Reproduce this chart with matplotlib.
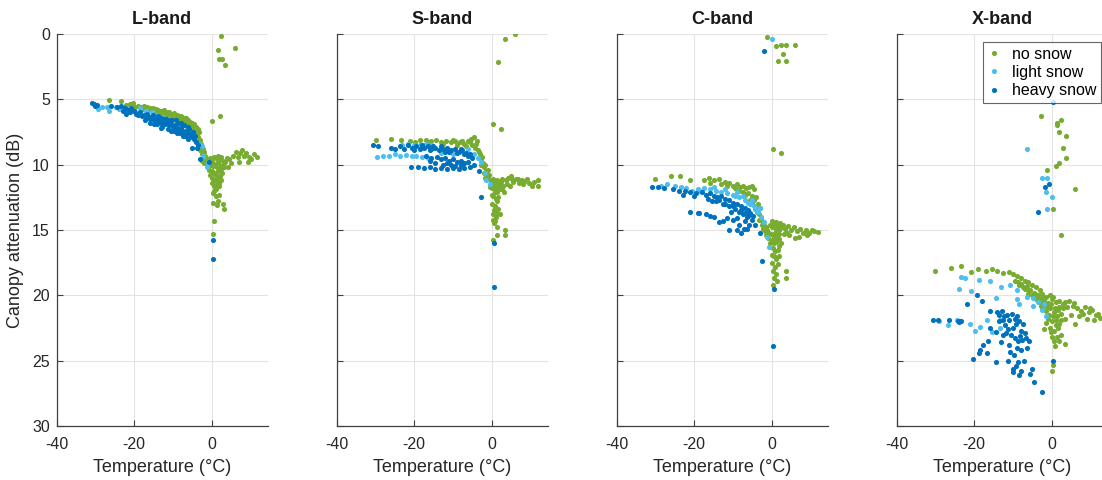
import numpy as np
import matplotlib
matplotlib.use("Agg")
import matplotlib.pyplot as plt

plt.rcParams['font.family'] = ['Liberation Sans', 'DejaVu Sans']
plt.rcParams['axes.unicode_minus'] = False

# ---- data: (temperature degC, canopy attenuation dB) ----
bands = ['L-band', 'S-band', 'C-band', 'X-band']
classes = ['no snow', 'light snow', 'heavy snow']
colors = ['#77AC30', '#4DBEEE', '#0072BD']

l_none = [(2.3, 0.15), (1.6, 1.2), (5.9, 1.05), (2.0, 1.9), (2.7, 1.9), (3.5, 2.35), (0.1, 6.65), (2.2, 6.25),
          (-26.4, 5.05), (-23.4, 5.15), (-21.0, 5.35), (-20.4, 5.3), (-19.0, 5.5), (-18.2, 5.55), (-17.5, 5.5),
          (-16.8, 5.6), (-16.0, 5.7), (-15.2, 5.65), (-14.5, 5.75), (-13.8, 5.8), (-13.0, 5.9), (-12.4, 5.85),
          (-11.8, 5.95), (-11.0, 6.0), (-10.4, 6.1), (-9.8, 6.05), (-9.0, 6.2), (-8.4, 6.25), (-7.8, 6.3),
          (-7.2, 6.4), (-6.6, 6.45), (-6.0, 6.6), (-5.5, 6.7), (-5.0, 6.8), (-4.5, 6.9), (-4.0, 7.1), (-3.6, 7.3),
          (-3.2, 7.5), (-12.0, 6.2), (-10.5, 6.4), (-9.2, 6.5), (-8.0, 6.6), (-7.0, 6.8), (-6.2, 7.0), (-5.4, 7.2),
          (-4.6, 7.4), (-4.0, 7.6), (-3.5, 7.9), (-3.0, 8.1), (-2.7, 8.4), (-2.4, 8.7), (-2.1, 9.0), (-1.8, 9.3),
          (-1.5, 9.5), (-1.2, 9.7), (-0.8, 9.9), (-3.8, 8.0), (-3.3, 8.6), (-2.9, 8.9), (-2.5, 9.2), (-2.6, 9.7),
          (-2.0, 9.9), (-0.5, 9.5), (0.0, 9.6), (0.5, 9.4), (1.0, 9.5), (1.5, 9.3), (2.0, 9.6), (2.5, 9.4),
          (3.0, 9.7), (3.5, 9.8), (4.0, 9.5), (-0.3, 10.0), (0.3, 10.1), (0.8, 10.0), (1.3, 10.2), (1.8, 10.0),
          (2.3, 10.3), (2.8, 10.0), (0.0, 10.5), (0.6, 10.6), (1.1, 10.8), (1.6, 10.5), (2.1, 10.9), (0.2, 11.0),
          (0.9, 11.2), (1.5, 11.1), (-0.4, 10.8), (0.5, 11.6), (1.2, 11.9), (1.8, 11.6), (0.3, 12.2), (1.0, 12.4),
          (2.0, 12.3), (0.4, 12.9), (1.4, 13.1), (3.0, 13.0), (3.2, 13.4), (0.7, 14.3), (0.4, 15.3),
          (4.5, 9.6), (5.0, 9.9), (5.5, 9.3), (6.3, 9.0), (6.8, 9.4), (7.3, 9.1), (7.8, 8.9), (8.3, 9.3),
          (8.8, 9.1), (9.5, 9.4), (10.2, 9.6), (10.8, 9.2), (11.8, 9.4), (7.0, 9.8), (9.3, 9.8), (4.2, 10.2),
          (-22.0, 5.4), (-19.8, 5.6), (-17.8, 5.75), (-15.8, 5.85), (-14.0, 6.0), (-13.2, 6.1), (-11.4, 6.25),
          (-9.6, 6.35), (-8.6, 6.5), (-7.5, 6.6), (-6.8, 6.7), (-5.8, 6.9), (-5.2, 7.0), (-4.8, 7.2), (-4.2, 7.3),
          (-3.9, 7.8), (-3.4, 8.2), (-3.1, 8.4), (-2.8, 8.6), (-2.2, 8.8), (-1.9, 9.6), (-1.6, 9.9), (-1.0, 10.2),
          (-0.6, 10.4), (0.4, 9.9), (1.6, 9.8), (2.6, 10.6), (3.3, 10.2), (1.3, 11.5), (0.7, 12.0), (1.6, 12.8),
          (2.4, 11.2), (0.0, 11.4), (1.9, 11.4)]
l_light = [(-29.4, 5.75), (-28.2, 5.6), (-26.9, 5.6), (-26.6, 5.9), (-24.7, 5.6), (-23.9, 5.75), (-22.2, 5.7),
           (-21.5, 5.9), (-19.6, 6.0), (-18.5, 5.7), (-17.0, 5.9), (-15.5, 6.0), (-14.0, 6.2), (-12.5, 6.35),
           (-11.0, 6.5), (-8.5, 6.9), (-6.5, 7.2), (-5.0, 7.6), (-4.2, 8.1), (-3.4, 8.4), (-2.6, 8.6),
           (-2.2, 9.3), (-1.3, 10.2), (-1.0, 9.9)]
l_heavy = [(-31.0, 5.3), (-30.5, 5.35), (-30.0, 5.5), (-29.6, 5.4), (-24.5, 5.6), (-23.5, 5.5), (-22.5, 5.7),
           (-21.5, 5.8), (-21.0, 6.0), (-20.0, 5.9), (-19.5, 6.1), (-19.0, 6.2), (-18.5, 6.0), (-18.0, 6.3),
           (-17.5, 6.2), (-17.0, 6.4), (-16.5, 6.3), (-16.0, 6.5), (-15.5, 6.4), (-15.0, 6.6), (-14.5, 6.5),
           (-14.0, 6.7), (-13.5, 6.6), (-13.0, 6.8), (-12.5, 6.7), (-12.0, 6.9), (-11.5, 6.8), (-11.0, 7.0),
           (-10.5, 6.9), (-10.0, 7.1), (-9.5, 7.0), (-9.0, 7.2), (-8.5, 7.3), (-8.0, 7.2), (-7.5, 7.4),
           (-7.0, 7.5), (-6.5, 7.4), (-6.0, 7.6), (-5.5, 7.7), (-5.0, 7.9), (-4.5, 8.0), (-5.2, 8.75),
           (-4.0, 8.3), (-3.5, 8.5), (-2.9, 9.6), (-0.8, 9.8), (0.3, 15.8), (0.3, 17.2), (-17.2, 6.6),
           (-15.8, 6.8), (-14.2, 6.9), (-12.8, 7.1), (-11.2, 7.3), (-9.8, 7.4), (-8.2, 7.6), (-6.8, 7.8),
           (-13.2, 6.4), (-11.8, 6.5), (-10.2, 6.6), (-8.8, 6.8), (-7.2, 7.0), (-20.8, 5.7), (-22.0, 6.1),
           (-16.8, 6.1), (-15.2, 6.2), (-13.8, 6.3), (-12.2, 6.5), (-10.8, 6.6), (-9.2, 6.6), (-7.8, 6.8),
           (-6.2, 7.1), (-5.8, 7.3), (-4.8, 7.5), (-4.2, 7.8), (-15.0, 6.9), (-13.0, 7.2), (-10.5, 7.4),
           (-9.0, 7.6), (-7.5, 7.8), (-6.0, 8.0), (-3.8, 8.7), (-26.0, 5.5), (-23.0, 5.9)]

s_none = [(6.1, 0.0), (3.6, 0.4), (1.8, 2.15), (0.4, 6.9), (2.4, 7.3),
          (-29.9, 8.15), (-25.9, 8.05), (-23.4, 8.1), (-21.0, 8.2), (-18.5, 8.15), (-17.0, 8.1), (-15.5, 8.2),
          (-14.2, 8.15), (-13.0, 8.25), (-11.8, 8.2), (-10.5, 8.3), (-9.3, 8.2), (-8.2, 8.3), (-7.0, 8.4),
          (-6.0, 8.2), (-5.2, 8.0), (-4.5, 7.9), (-3.8, 8.2), (-12.5, 8.4), (-8.8, 8.5), (-6.5, 8.6),
          (-5.0, 8.5), (-4.2, 8.7), (-3.6, 8.9), (-3.0, 9.2), (-2.6, 9.6), (-2.2, 9.9), (-1.9, 10.2),
          (-1.5, 10.5), (-1.2, 10.8), (-0.8, 11.0), (-0.4, 11.2), (-2.8, 10.0), (-2.0, 10.6), (-1.6, 11.0),
          (0.0, 11.3), (0.5, 11.1), (1.0, 11.4), (1.5, 11.2), (2.0, 11.5), (2.5, 11.3), (3.0, 11.6),
          (0.2, 11.8), (0.8, 11.9), (1.4, 12.1), (2.1, 11.9), (-0.3, 11.7), (0.5, 12.4), (1.1, 12.6),
          (1.8, 12.5), (0.2, 13.0), (0.9, 13.2), (1.6, 13.4), (0.4, 13.8), (1.2, 14.0), (2.2, 13.8),
          (0.6, 14.5), (1.4, 14.8), (3.4, 15.0), (3.4, 15.4), (1.3, 15.4), (0.5, 15.8),
          (3.8, 11.2), (4.3, 11.0), (5.0, 10.9), (5.6, 11.3), (6.3, 11.1), (7.0, 11.4), (7.8, 11.2),
          (8.5, 11.3), (9.2, 11.1), (9.8, 11.4), (10.5, 11.6), (11.0, 11.3), (12.1, 11.2), (12.0, 11.6),
          (4.8, 11.6), (3.2, 12.1),
          (-0.2, 11.5), (0.3, 11.6), (1.2, 11.8), (1.7, 11.7), (2.6, 11.9), (0.1, 12.3), (0.9, 12.1),
          (1.5, 12.8), (0.6, 13.5), (1.3, 13.7), (0.3, 14.2), (1.0, 14.3), (-2.4, 9.4), (-3.3, 9.0), (-4.0, 8.4),
          (-1.7, 10.0), (-1.0, 10.4), (-0.6, 10.8), (-5.5, 8.3), (-7.5, 8.2), (-10.0, 8.15), (-16.0, 8.3),
          (-19.8, 8.3), (2.8, 11.1), (4.0, 11.5), (5.3, 11.1), (6.8, 11.1), (8.0, 11.5)]
s_light = [(-29.5, 9.4), (-28.0, 9.3), (-26.5, 9.3), (-25.0, 9.2), (-23.5, 9.3), (-22.0, 9.25), (-20.5, 9.3),
           (-19.5, 9.3), (-18.0, 9.4), (-16.5, 9.5), (-23.0, 8.5), (-21.5, 8.4), (-20.0, 8.5), (-18.5, 8.5),
           (-17.0, 8.4), (-16.0, 8.5), (-13.0, 9.1), (-10.0, 9.2), (-6.0, 8.8), (-4.5, 9.2), (-3.5, 9.5),
           (-2.8, 9.8), (-1.8, 10.6), (-1.3, 11.2), (-0.5, 11.5)]
s_heavy = [(-30.6, 8.5), (-29.3, 8.55), (-26.0, 8.7), (-23.5, 8.6), (-22.5, 8.8), (-21.5, 8.5), (-20.5, 8.7),
           (-19.5, 8.6), (-18.5, 8.8), (-17.5, 8.7), (-16.5, 8.6), (-15.5, 8.8), (-14.5, 8.7), (-13.5, 8.9),
           (-12.5, 8.8), (-11.5, 8.7), (-10.5, 8.9), (-9.5, 8.8), (-8.5, 9.0), (-7.5, 8.9), (-6.5, 9.1),
           (-5.5, 9.2), (-17.0, 9.3), (-15.5, 9.5), (-14.0, 9.4), (-13.0, 9.6), (-12.0, 9.5), (-11.0, 9.7),
           (-10.0, 9.6), (-9.0, 9.8), (-8.0, 9.7), (-7.0, 9.9), (-6.0, 9.8), (-14.5, 9.9), (-12.5, 10.0),
           (-10.5, 10.0), (-20.8, 10.15), (-19.0, 10.2), (-17.5, 10.25), (-16.0, 10.2), (-14.5, 10.3),
           (-13.0, 10.25), (-11.5, 10.3), (-10.0, 10.25), (-8.5, 10.3), (-7.0, 10.25), (-5.5, 10.2),
           (-4.5, 10.0), (-3.2, 10.5), (-2.6, 12.5), (0.6, 16.0), (0.6, 19.4),
           (-25.0, 8.8), (-20.0, 8.9), (-18.0, 8.5), (-16.0, 8.9), (-15.0, 8.6), (-13.0, 8.6), (-12.0, 9.0),
           (-11.0, 9.0), (-9.0, 9.1), (-8.0, 8.8), (-7.0, 9.2), (-6.0, 9.3), (-5.0, 9.5), (-16.0, 9.7),
           (-11.5, 9.9), (-9.5, 10.1), (-8.0, 10.0)]

c_none = [(-1.3, 0.2), (1.2, 0.95), (2.3, 0.85), (3.6, 0.85), (6.1, 0.85), (3.0, 1.5), (1.7, 2.05), (3.6, 2.05),
          (0.3, 8.8), (2.3, 9.1),
          (-30.2, 11.1), (-26.1, 10.9), (-23.6, 10.9), (-21.0, 11.2), (-17.5, 11.2), (-16.3, 11.0),
          (-14.8, 11.2), (-13.5, 11.1), (-12.0, 11.3), (-11.0, 11.4), (-10.0, 11.6), (-9.0, 11.5), (-8.2, 11.7),
          (-7.4, 11.6), (-6.6, 11.8), (-5.8, 11.7), (-5.0, 11.6), (-4.5, 11.9), (-6.0, 12.2), (-5.2, 12.4),
          (-4.6, 12.7), (-4.0, 12.5), (-3.5, 13.0), (-3.0, 13.3), (-4.2, 13.4), (-3.4, 13.8), (-2.8, 14.0),
          (-2.4, 14.3), (-2.0, 14.6), (-1.6, 14.8), (-1.2, 15.0), (-0.8, 15.2), (-2.2, 14.9), (-1.5, 15.4),
          (-0.5, 14.6), (0.0, 14.8), (0.5, 14.6), (1.0, 14.9), (1.5, 14.7), (2.0, 15.0), (2.5, 14.8),
          (-0.3, 15.3), (0.3, 15.4), (0.8, 15.2), (1.3, 15.5), (1.8, 15.3), (0.0, 15.8), (0.6, 16.0),
          (1.2, 15.9), (2.0, 15.7), (0.3, 16.4), (0.9, 16.6), (1.6, 16.5), (0.5, 17.0), (1.2, 17.2),
          (0.2, 17.5), (0.8, 17.8), (1.5, 17.6), (0.4, 18.1), (1.1, 18.4), (3.8, 18.1), (3.8, 18.7),
          (0.4, 19.2), (3.0, 14.6), (3.5, 14.9), (4.2, 14.7), (5.0, 15.0), (5.8, 14.8), (6.5, 15.1),
          (7.3, 14.9), (8.0, 15.2), (8.8, 15.0), (9.5, 15.2), (10.3, 15.0), (11.0, 15.1), (12.0, 15.15),
          (4.5, 15.4), (6.0, 15.6), (3.2, 15.3),
          (-16.0, 11.4), (-13.0, 11.5), (-11.5, 11.6), (-9.5, 11.8), (-8.5, 12.0), (-7.5, 12.1), (-6.8, 12.3),
          (-5.6, 12.7), (-5.0, 13.0), (-4.4, 13.2), (-3.8, 13.6), (-3.2, 14.2), (-2.6, 14.6), (-1.8, 15.1),
          (-1.0, 15.6), (-0.5, 16.0), (0.2, 14.3), (1.2, 14.4), (2.2, 14.5), (1.0, 15.6), (2.3, 16.0),
          (0.1, 16.9), (1.8, 17.0), (0.6, 18.7), (1.4, 18.9), (1.8, 16.2), (4.0, 15.2), (7.0, 15.5), (9.0, 15.4)]
c_light = [(-28.5, 11.6), (-27.0, 11.5), (-25.0, 11.6), (-23.5, 11.7), (-22.0, 11.8), (-20.5, 12.0),
           (-19.0, 11.9), (-17.5, 11.8), (-16.0, 11.9), (-14.5, 12.0), (-13.0, 12.1), (-11.5, 12.2),
           (-10.0, 12.3), (-8.5, 12.5), (-7.0, 12.7), (-5.5, 13.0), (-4.5, 13.2), (-3.5, 13.6), (-2.8, 14.0),
           (-2.0, 14.4), (-1.2, 15.5), (-0.8, 16.3), (0.0, 0.35), (-6.0, 12.9), (-9.0, 12.1),
           (-18.5, 12.0), (-15.0, 11.7), (-12.0, 11.9), (-9.5, 12.4), (-7.5, 12.4), (-5.0, 12.7), (-4.0, 13.5),
           (-3.0, 13.3)]
c_heavy = [(-30.8, 11.7), (-29.3, 11.7), (-27.8, 11.8), (-25.5, 11.9), (-24.0, 12.0), (-22.5, 12.0),
           (-21.0, 12.1), (-19.5, 12.2), (-18.0, 12.1), (-17.0, 12.3), (-16.0, 12.2), (-15.0, 12.4),
           (-14.0, 12.5), (-13.0, 12.4), (-12.0, 12.6), (-11.0, 12.7), (-10.0, 12.9), (-9.0, 13.0),
           (-8.0, 13.2), (-7.0, 13.3), (-6.0, 13.5), (-5.5, 13.7), (-4.8, 13.9), (-12.5, 13.0), (-11.0, 13.2),
           (-9.5, 13.4), (-8.5, 13.6), (-7.5, 13.8), (-6.5, 14.0), (-10.5, 13.6), (-7.0, 14.3), (-5.8, 14.6),
           (-9.0, 14.1), (-21.0, 13.6), (-18.8, 13.7), (-17.0, 13.8), (-15.0, 14.0), (-13.5, 14.4),
           (-11.5, 14.1), (-10.0, 14.2), (-9.0, 15.0), (-8.0, 15.2), (-7.2, 14.9), (-2.9, 15.2), (-2.6, 17.4),
           (-1.9, 1.3), (0.5, 19.5), (0.4, 23.9),
           (-23.0, 12.3), (-20.0, 12.4), (-16.5, 12.6), (-15.5, 12.8), (-14.5, 12.8), (-13.5, 12.7),
           (-12.0, 13.0), (-10.0, 13.2), (-8.0, 13.5), (-6.8, 13.7), (-6.0, 13.9), (-5.2, 14.2), (-4.4, 14.6),
           (-19.0, 13.7), (-16.0, 13.9), (-12.5, 14.3), (-8.5, 14.6), (-6.5, 14.9), (-11.0, 15.0)]

x_none = [(-2.8, 6.3), (1.3, 6.8), (2.3, 6.6), (1.3, 7.0), (1.8, 7.5), (3.6, 7.8), (3.0, 8.7), (3.6, 9.5),
          (1.8, 9.9), (1.1, 10.1), (-1.3, 10.4), (6.1, 11.9), (0.25, 13.4), (2.4, 15.4),
          (-30.0, 18.1), (-25.9, 17.9), (-23.4, 17.75), (-20.8, 18.2), (-19.0, 18.0), (-17.0, 18.1),
          (-15.5, 18.0), (-14.0, 18.1), (-12.5, 18.3), (-11.0, 18.2), (-10.0, 18.4), (-9.0, 18.5),
          (-8.0, 18.7), (-7.0, 18.9), (-6.0, 19.0), (-5.0, 19.2), (-4.0, 19.4), (-3.0, 19.6), (-9.5, 18.9),
          (-8.5, 19.2), (-7.5, 19.4), (-6.5, 19.3), (-5.5, 19.6), (-4.5, 19.8), (-3.5, 20.0), (-2.5, 19.9),
          (-1.5, 20.1), (-0.5, 20.0), (-6.0, 19.9), (-4.0, 20.3), (-3.0, 20.5), (-2.0, 20.4), (-1.0, 20.6),
          (0.0, 20.3), (1.0, 20.5), (2.0, 20.4), (3.0, 20.7), (4.0, 20.9), (-2.5, 21.0), (-1.5, 21.2),
          (-0.5, 21.0), (0.5, 21.3), (1.5, 21.1), (2.5, 21.4), (-1.0, 21.8), (0.0, 22.0), (1.0, 21.9),
          (2.0, 22.2), (-0.5, 22.5), (0.5, 22.7), (1.5, 22.5), (0.0, 23.2), (1.3, 23.2), (3.4, 23.7),
          (0.8, 23.9), (0.4, 25.3), (0.2, 25.8), (2.5, 23.0), (4.5, 20.4), (5.5, 20.8), (6.5, 21.0),
          (7.5, 21.2), (8.5, 20.9), (9.5, 21.3), (10.5, 21.1), (11.5, 21.5), (12.0, 21.4), (12.5, 21.7),
          (7.0, 21.6), (9.0, 21.8), (3.5, 21.8), (5.0, 21.5), (6.0, 22.2),
          (-8.8, 19.0), (-7.8, 19.1), (-7.0, 19.5), (-6.2, 19.6), (-5.0, 20.0), (-4.2, 19.9), (-3.2, 20.2),
          (-2.8, 20.8), (-2.2, 20.2), (-1.2, 20.9), (-0.2, 20.7), (0.3, 20.1), (0.8, 21.0), (1.8, 20.9),
          (2.8, 21.0), (3.5, 20.5), (-0.8, 21.5), (0.3, 21.6), (1.3, 21.6), (2.3, 21.9), (-1.6, 22.1),
          (-0.2, 22.8), (1.0, 22.3), (0.5, 23.5), (1.8, 23.5), (-2.0, 22.6), (5.8, 20.6), (8.0, 21.4),
          (10.0, 21.0), (11.0, 21.9)]
x_light = [(-23.4, 18.6), (-22.5, 18.7), (-23.8, 19.5), (-20.8, 19.7), (-18.7, 18.8), (-15.8, 18.9),
           (-13.2, 19.4), (-10.7, 19.2), (-9.0, 19.6), (-6.4, 20.1), (-4.7, 20.2), (-14.3, 20.2), (-8.9, 20.3),
           (-8.5, 20.7), (-4.9, 20.8), (-2.4, 21.1), (-29.2, 22.0), (-26.7, 22.3), (-24.5, 21.9), (-23.7, 22.0),
           (-21.0, 22.2), (-19.7, 22.7), (-18.5, 22.4), (-16.8, 21.9), (-13.4, 21.9), (-15.5, 22.8),
           (-13.4, 22.5), (-3.5, 20.5), (-2.0, 20.7), (-1.5, 21.6),
           (-6.4, 8.8), (-2.5, 11.0), (-1.3, 11.0), (-1.45, 12.1), (0.0, 12.5), (-1.3, 13.4)]
x_heavy = [(-30.6, 21.9), (-29.3, 21.9), (-26.4, 21.9), (-24.3, 22.0), (-23.9, 22.05), (-23.5, 21.95),
           (-21.8, 20.7), (-19.4, 19.95), (-18.1, 20.4), (-16.0, 21.2), (-13.5, 21.5), (-12.2, 21.6),
           (-13.5, 22.0), (-10.9, 21.9), (-9.6, 21.8), (-8.4, 22.0), (-7.5, 22.2), (-16.0, 22.5), (-14.3, 22.8),
           (-12.6, 23.0), (-11.7, 22.9), (-10.5, 23.0), (-9.6, 23.3), (-8.8, 23.5), (-7.6, 23.4), (-6.7, 23.3),
           (-5.9, 23.5), (-16.4, 23.5), (-17.7, 23.8), (-18.6, 24.2), (-18.7, 24.4), (-16.6, 24.4),
           (-20.4, 24.9), (-14.4, 25.1), (-11.4, 25.0), (-10.1, 25.6), (-9.3, 25.4), (-8.8, 25.1), (-8.0, 25.8),
           (-10.1, 25.9), (-8.4, 26.1), (-5.0, 25.6), (-5.5, 26.0), (-4.5, 26.6), (-2.5, 27.4), (0.4, 25.0),
           (-14.0, 21.3), (-12.8, 21.2), (-11.5, 21.5), (-10.3, 21.4), (-9.0, 21.6), (-12.0, 22.3),
           (-10.0, 22.5), (-8.0, 22.7), (-7.0, 22.9), (-13.0, 23.6), (-11.0, 23.8), (-9.0, 24.0), (-8.0, 24.2),
           (-6.5, 24.0), (-3.5, 13.65), (-1.7, 11.7), (-0.6, 11.5), (0.4, 5.2),
           (-12.5, 21.9), (-11.2, 22.6), (-9.3, 22.2), (-8.2, 23.1), (-10.8, 24.3), (-9.8, 24.6), (-7.2, 25.0)]

panel_data = [[l_none, l_light, l_heavy],
              [s_none, s_light, s_heavy],
              [c_none, c_light, c_heavy],
              [x_none, x_light, x_heavy]]

# ---- figure ----
W, H = 1102, 480
fig = plt.figure(figsize=(W / 100, H / 100), dpi=100)

ax_left_px = [56.7, 336.5, 616.7, 896.7]
ax_w_px = 211.2
ax_bottom = 1 - 426 / H
ax_h = 392 / H
axis_col = '#404040'

axes = []
for i, band in enumerate(bands):
    ax = fig.add_axes([ax_left_px[i] / W, ax_bottom, ax_w_px / W, ax_h])
    for pts, lab, col in zip(panel_data[i], classes, colors):
        arr = np.array(pts)
        ax.plot(arr[:, 0], arr[:, 1], 'o', ms=3.7, mec='none', mfc=col, label=lab, zorder=3)
    ax.set_xlim(-40, 14.5)
    ax.set_ylim(30, 0)
    ax.set_xticks([-40, -20, 0])
    ax.set_yticks(np.arange(0, 31, 5))
    ax.grid(True, color='#e3e3e3', lw=0.8, zorder=0)
    ax.set_axisbelow(True)
    for side in ['top', 'right']:
        ax.spines[side].set_visible(False)
    for side in ['left', 'bottom']:
        ax.spines[side].set_color(axis_col)
        ax.spines[side].set_linewidth(0.9)
    ax.tick_params(direction='in', length=4, width=0.8, colors=axis_col, labelsize=11.5,
                   labelcolor='#262626')
    ax.tick_params(axis='x', pad=8)
    ax.tick_params(axis='y', pad=5)
    if i > 0:
        ax.set_yticklabels([])
    ax.set_title(band, fontsize=13, fontweight='bold', color='#1a1a1a', pad=7)
    ax.set_xlabel('Temperature (°C)', fontsize=13, color='#262626', labelpad=5)
    axes.append(ax)

axes[0].set_ylabel('Canopy attenuation (dB)', fontsize=13, color='#262626', labelpad=6)

leg = axes[3].legend(loc='upper right', bbox_to_anchor=(1101 / W, 1 - 42 / H),
                     bbox_transform=fig.transFigure, fontsize=11.5, frameon=True, fancybox=False,
                     handlelength=0.8, handletextpad=0.7, labelspacing=0.2, borderpad=0.3,
                     borderaxespad=0, markerscale=1.0)
leg.get_frame().set_edgecolor(axis_col)
leg.get_frame().set_linewidth(0.8)

fig.savefig('out.png', dpi=100)
